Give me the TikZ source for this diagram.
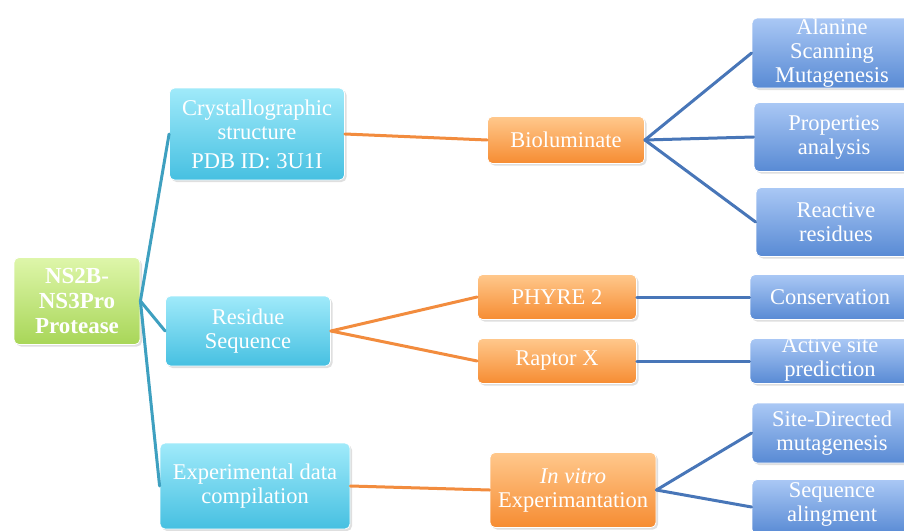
\documentclass[tikz,border=0pt]{standalone}
\usepackage{fontspec}
\setmainfont{Liberation Serif}
\usepackage{tikz}
\usetikzlibrary{
  positioning,
  shadows,
}
\definecolor{limetop}{RGB}{222, 246, 170}
\definecolor{limebot}{RGB}{168, 214, 88}
\definecolor{cyantop}{RGB}{160, 234, 250}
\definecolor{cyanbot}{RGB}{70, 192, 225}
\definecolor{peachtop}{RGB}{255, 200, 140}
\definecolor{peachbot}{RGB}{246, 140, 50}
\definecolor{skytop}{RGB}{170, 200, 245}
\definecolor{skybot}{RGB}{88, 138, 212}
\definecolor{tealline}{RGB}{62, 160, 192}
\definecolor{orangeline}{RGB}{242, 140, 62}
\definecolor{blueline}{RGB}{72, 118, 184}
\tikzstyle{link} = [
  line width=3pt,
  line cap=round,
]

\begin{document}
\begin{tikzpicture}[x=1pt, y=-1pt,
    box/.style={rounded corners=5pt, draw=white, line width=0.8pt,
                text=white, align=center, inner sep=2pt,
                font=\fontsize{22.5}{24}\selectfont,
                drop shadow={opacity=0.25, shadow xshift=2pt,
                             shadow yshift=-2pt}},
    lbl/.style={text=white, align=center,
                font=\fontsize{22.5}{24}\selectfont},
    rootbox/.style={box, top color=limetop, bottom color=limebot,
                    font=\fontsize{23}{25}\selectfont\bfseries},
    topic/.style={box, top color=cyantop, bottom color=cyanbot},
    tool/.style={box, top color=peachtop, bottom color=peachbot},
    leaf/.style={box, top color=skytop, bottom color=skybot,
                 minimum width=160pt}]
    \clip (0,0) rectangle (904,530);
    \useasboundingbox (0,0) rectangle (904,530);
    \node [rootbox, minimum width=126pt, minimum height=87pt]
          (root) at (77,301) {NS2B-\\NS3Pro\\Protease};
    \node [topic, minimum width=175pt, minimum height=92pt]
          (cryst) at (257,134) {Crystallographic\\structure\\[5pt]PDB ID: 3U1I};
    \node [topic, minimum width=165pt, minimum height=70pt]
          (resid) at (248,331) {Residue\\Sequence};
    \node [topic, minimum width=190pt, minimum height=86pt]
          (exper) at (255,486) {Experimental data\\compilation};
    \node [tool, minimum width=157pt, minimum height=47pt]
          (biolum) at (566,140) {Bioluminate};
    \node [tool, minimum width=159pt, minimum height=45pt]
          (phyre) at (557,297) {PHYRE 2};
    \node [tool, minimum width=159pt, minimum height=45pt]
          (raptor) at (557,361) {Raptor X};
    \node [tool, minimum width=166pt, minimum height=75pt]
          (invitro) at (573,490) {\textit{In vitro}\\Experimantation};
    \node [leaf, minimum height=70pt,
           label={[lbl]center:Alanine\\Scanning\\Mutagenesis}]
          (alanine) at (832,53) {};
    \node [leaf, minimum height=69pt] (props) at (834,137)
          {Properties\\analysis};
    \node [leaf, minimum height=69pt] (react) at (836,222)
          {Reactive\\residues};
    \node [leaf, minimum height=45pt] (conserv) at (830,297)
          {Conservation};
    \node [leaf, minimum height=45pt,
           label={[lbl, yshift=2pt]center:Active site\\prediction}]
          (active) at (830,361) {};
    \node [leaf, minimum height=60pt] (sitedir) at (832,433)
          {Site-Directed\\mutagenesis};
    \node [leaf, minimum height=55pt,
           label={[lbl, yshift=3pt]center:Sequence\\alingment}]
          (seqalign) at (832,507) {};
    \foreach \t in {cryst, resid, exper}
        \draw [link, tealline] (root.east) -- (\t.west);
    \draw [link, orangeline] (cryst.east) -- (biolum.west);
    \draw [link, orangeline] (resid.east) -- (phyre.west);
    \draw [link, orangeline] (resid.east) -- (raptor.west);
    \draw [link, orangeline] (exper.east) -- (invitro.west);
    \foreach \t in {alanine, props, react}
        \draw [link, blueline] (biolum.east) -- (\t.west);
    \draw [link, blueline] (phyre.east) -- (conserv.west);
    \draw [link, blueline] (raptor.east) -- (active.west);
    \foreach \t in {sitedir, seqalign}
        \draw [link, blueline] (invitro.east) -- (\t.west);
  \end{tikzpicture}
\end{document}
